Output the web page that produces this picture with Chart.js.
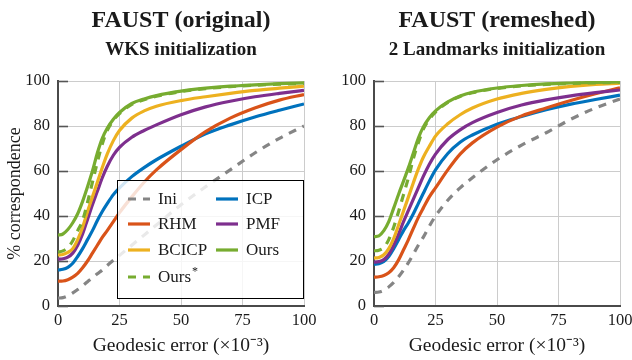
<!DOCTYPE html>
<html>
<head>
<meta charset="utf-8">
<script src="https://cdn.jsdelivr.net/npm/chart.js@4.4.1/dist/chart.umd.min.js"></script>
<style>
  html, body { margin: 0; padding: 0; background: #fff; }
  #wrap { position: relative; width: 632px; height: 360px; }
  .pane { position: absolute; top: 0; width: 316px; height: 360px; }
</style>
</head>
<body>
<div id="wrap">
  <div class="pane" style="left:0"><canvas id="orig" width="316" height="360"></canvas></div>
  <div class="pane" style="left:316px"><canvas id="rem" width="316" height="360"></canvas></div>
</div>
<script>
/* ===== data ===== */
var xs = [0, 2, 4, 6, 8, 10, 12, 14, 16, 18, 20, 22.5, 25, 30, 35, 40, 50, 60, 70, 80, 90, 100];
var xTicks = [0, 25, 50, 75, 100];
var yTicks = [0, 20, 40, 60, 80, 100];
var methods = ["Ini", "ICP", "RHM", "PMF", "BCICP", "Ours", "Ours*"];

// FAUST (original), WKS initialization
var origIni   = [3.5, 3.7, 4.5, 5.8, 7.3, 9, 10.8, 12.5, 14.3, 16, 18, 20.3, 22.5, 27, 31.5, 36, 45, 53, 60.5, 68, 74.5, 80];
var origICP   = [16, 16.3, 17.2, 19, 22, 25.5, 29.5, 33.5, 38, 42, 45.5, 49.5, 52.5, 57.5, 61.5, 65, 71, 76.5, 80.5, 84, 87, 89.8];
var origRHM   = [11, 11.1, 11.7, 12.8, 14.5, 17, 20, 23.5, 27, 30.5, 33.5, 37.5, 41.5, 48.5, 55, 60.5, 69.5, 77.5, 83.5, 88, 91.5, 94];
var origPMF   = [20.8, 21, 21.7, 23.5, 27, 32, 38.5, 45, 51, 57, 62, 67, 70.5, 75, 78, 80.5, 85, 88.5, 91, 93, 94.5, 95.8];
var origBCICP = [22.7, 22.9, 23.8, 25.5, 29.5, 35, 42, 48.5, 55, 61.5, 67.5, 73.5, 78, 83.5, 86.7, 88.8, 91.3, 93, 94.5, 95.8, 96.8, 97.7];
var origOurs  = [31.5, 32, 34, 37, 41, 46.5, 53, 60, 68, 74.5, 79, 83, 86, 90, 92, 93.5, 95.5, 96.8, 97.7, 98.3, 98.8, 99.2];
var origOursS = [24, 24.5, 26, 29, 33.5, 38, 46, 55, 64, 72, 78, 82.5, 85.5, 89.6, 91.7, 93.2, 95.3, 96.6, 97.5, 98.1, 98.6, 99];

// FAUST (remeshed), 2 landmarks initialization
var remIni   = [6, 6.2, 7, 8.5, 10.5, 13, 16, 19.3, 23, 27, 30.5, 35.5, 40, 47, 52.5, 57, 65, 71.5, 77, 83, 88, 92];
var remICP   = [18.5, 18.8, 19.8, 22, 25.5, 29.5, 33.5, 37, 41, 45.5, 50, 55.5, 60.5, 67.8, 72.8, 76, 80.8, 84.2, 87.2, 89.7, 91.8, 93.7];
var remRHM   = [12.8, 13, 13.6, 14.8, 17, 20.5, 25, 29.5, 34.5, 39.3, 43.5, 48.5, 52.5, 60.5, 67.5, 72.5, 79.5, 84.5, 88, 91.3, 94.3, 97];
var remPMF   = [19.5, 19.7, 20.6, 23, 27, 32, 37.5, 42.5, 47.5, 52.5, 57.5, 63, 67.5, 74, 78.3, 81.5, 86, 89.3, 91.6, 93.4, 94.8, 96];
var remBCICP = [21.3, 21.6, 22.8, 25.5, 30, 36, 42.2, 48.5, 54.8, 60.8, 66, 71, 75.5, 81, 85, 88, 92, 94.5, 96.3, 97.6, 98.5, 99];
var remOurs  = [30.8, 31.2, 33.5, 37.5, 43.5, 49.7, 55.5, 61.5, 68, 74.5, 79.5, 83.7, 86.7, 90.7, 93.3, 95, 96.9, 98, 98.7, 99.1, 99.4, 99.6];
var remOursS = [24.5, 24.8, 26, 29.5, 35, 42, 49.5, 57, 65.5, 72.5, 78.5, 83, 86.2, 90.5, 93.1, 94.8, 96.7, 97.8, 98.5, 98.9, 99.2, 99.4];

/* ===== styles ===== */
var SERIF = '"Liberation Serif", "Times New Roman", serif';
var INK = "#1a1a1a";
var colors = ["#858585", "#0072bd", "#d95319", "#7e2f8e", "#edb120", "#77ac30", "#77ac30"];
var dashed = [true, false, false, false, false, false, true];
var DASH = [8, 7];

// title + subtitle centred over the plot area
var headPlugin = {
  id: "head",
  afterDraw: function (chart, args, opts) {
    var ctx = chart.ctx, a = chart.chartArea, cx = (a.left + a.right) / 2;
    ctx.save();
    ctx.fillStyle = INK;
    ctx.textAlign = "center";
    ctx.textBaseline = "alphabetic";
    ctx.font = "bold 24px " + SERIF;
    ctx.fillText(opts.lines[0], cx, 27);
    ctx.font = "bold 19px " + SERIF;
    ctx.fillText(opts.lines[1], cx, 55);
    ctx.restore();
  }
};

// short tick marks pointing into the plot on the y axis
var innerTicks = {
  id: "innerTicks",
  beforeDatasetsDraw: function (chart) {
    var ctx = chart.ctx, a = chart.chartArea, y = chart.scales.y;
    ctx.save();
    ctx.strokeStyle = "#555";
    ctx.lineWidth = 1.6;
    yTicks.forEach(function (v) {
      var py = Math.round(y.getPixelForValue(v)) + 0.5;
      ctx.beginPath();
      ctx.moveTo(a.left, py);
      ctx.lineTo(a.left + 10, py);
      ctx.stroke();
    });
    ctx.restore();
  }
};

// boxed two-column legend inside the plot (left chart only)
var boxLegend = {
  id: "boxLegend",
  afterDatasetsDraw: function (chart, args, opts) {
    if (!opts.show) return;
    var ctx = chart.ctx, a = chart.chartArea;
    var x0 = a.left + 59, y0 = 180, w = a.right - x0, h = 118;
    ctx.save();
    ctx.fillStyle = "rgba(255,255,255,0.82)";
    ctx.fillRect(x0, y0, w, h);
    ctx.strokeStyle = "#000";
    ctx.lineWidth = 1;
    ctx.strokeRect(Math.round(x0) + 0.5, y0 + 0.5, Math.round(w) - 1, h);
    var rows = [19, 44, 70, 97];
    chart.data.datasets.forEach(function (ds, i) {
      var col = i % 2, row = Math.floor(i / 2);
      var sx = x0 + (col ? 99 : 11), ty = y0 + rows[row];
      ctx.strokeStyle = ds.borderColor;
      ctx.lineWidth = ds.borderWidth;
      ctx.setLineDash(ds.borderDash || []);
      ctx.beginPath();
      ctx.moveTo(sx, ty);
      ctx.lineTo(sx + 22, ty);
      ctx.stroke();
      ctx.setLineDash([]);
      ctx.fillStyle = INK;
      ctx.textAlign = "left";
      ctx.textBaseline = "middle";
      ctx.font = "17px " + SERIF;
      var lbl = ds.label, star = lbl.charAt(lbl.length - 1) === "*";
      if (star) lbl = lbl.slice(0, -1);
      ctx.fillText(lbl, sx + 30, ty + 1);
      if (star) {
        var tw = ctx.measureText(lbl).width;
        ctx.font = "12px " + SERIF;
        ctx.fillText("*", sx + 31 + tw, ty - 5);
      }
    });
    ctx.restore();
  }
};

function makeChart(id, series, lines, showLegend, showYTitle) {
  var datasets = methods.map(function (name, i) {
    return {
      label: name,
      data: xs.map(function (x, j) { return { x: x, y: series[i][j] }; }),
      borderColor: colors[i],
      borderWidth: 3.2,
      borderDash: dashed[i] ? DASH : [],
      borderCapStyle: "butt",
      pointRadius: 0,
      fill: false,
      cubicInterpolationMode: "monotone",
      order: methods.length - 1 - i
    };
  });

  return new Chart(document.getElementById(id), {
    type: "line",
    data: { datasets: datasets },
    plugins: [headPlugin, innerTicks, boxLegend],
    options: {
      responsive: false,
      animation: false,
      layout: { padding: { top: 81, right: 12, left: 0, bottom: 0 } },
      plugins: {
        legend: { display: false },
        tooltip: { enabled: false },
        head: { lines: lines },
        boxLegend: { show: showLegend }
      },
      scales: {
        x: {
          type: "linear", min: 0, max: 100,
          afterBuildTicks: function (s) { s.ticks = xTicks.map(function (v) { return { value: v }; }); },
          afterFit: function (s) { s.height = 54; s.paddingLeft = 0; s.paddingRight = 0; },
          grid: { color: "#cccccc", lineWidth: 1, drawTicks: false },
          border: { color: "#4a4a4a", width: 2 },
          ticks: { color: INK, padding: 5, maxRotation: 0, font: { family: SERIF, size: 16.5 } },
          title: { display: true, text: "Geodesic error (×10⁻³)", color: INK,
                   padding: { top: 2, bottom: 2 }, font: { family: SERIF, size: 19.5 } }
        },
        y: {
          type: "linear", min: 0, max: 100,
          afterBuildTicks: function (s) { s.ticks = yTicks.map(function (v) { return { value: v }; }); },
          afterFit: function (s) { s.width = 58; s.paddingTop = 0; s.paddingBottom = 0; },
          grid: { color: "#cccccc", lineWidth: 1, drawTicks: false },
          border: { color: "#4a4a4a", width: 2 },
          ticks: { color: INK, padding: 8, font: { family: SERIF, size: 16.5 } },
          title: { display: showYTitle, text: "% correspondence", color: INK,
                   padding: { top: 4, bottom: 0 }, font: { family: SERIF, size: 18 } }
        }
      }
    }
  });
}

makeChart("orig", [origIni, origICP, origRHM, origPMF, origBCICP, origOurs, origOursS],
  ["FAUST (original)", "WKS initialization"], true, true);
makeChart("rem", [remIni, remICP, remRHM, remPMF, remBCICP, remOurs, remOursS],
  ["FAUST (remeshed)", "2 Landmarks initialization"], false, false);
</script>
</body>
</html>
